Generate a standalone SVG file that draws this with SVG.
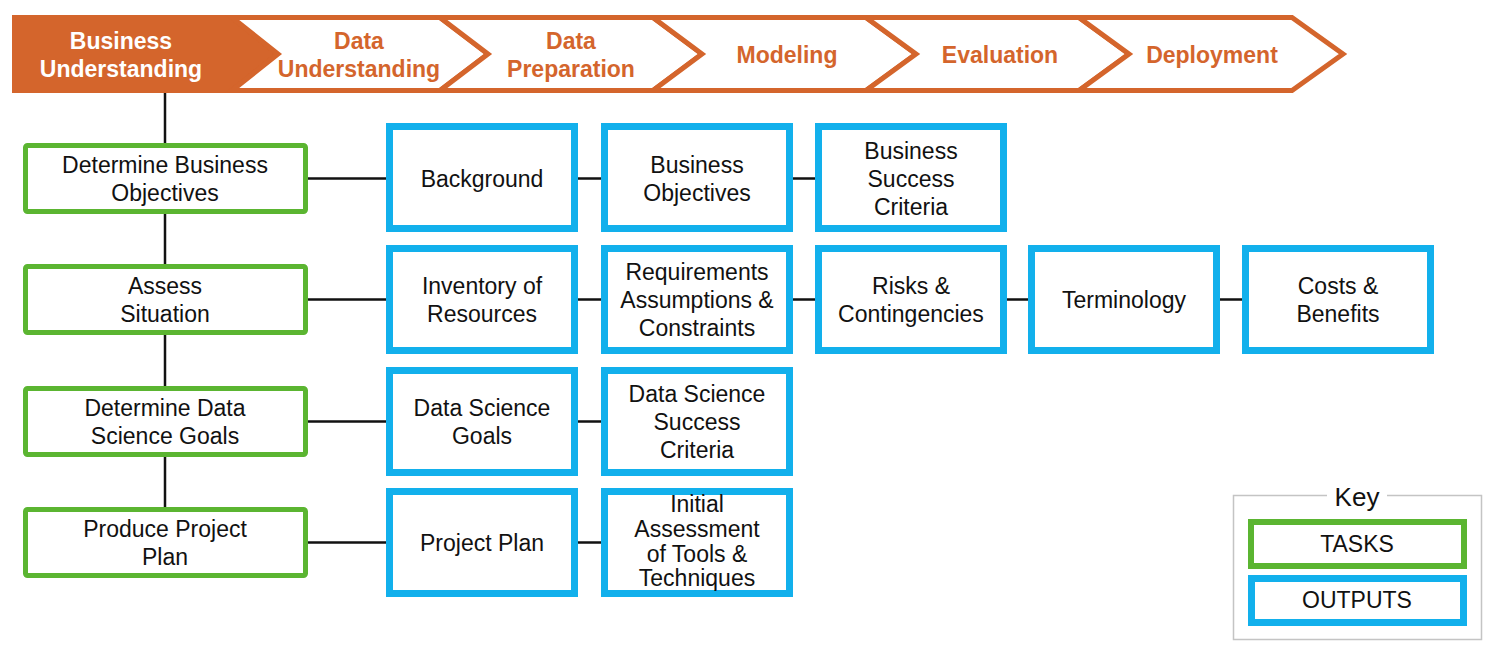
<svg xmlns="http://www.w3.org/2000/svg" width="1499" height="654" viewBox="0 0 1499 654">
<style>
.chev{fill:#fff;stroke:#D4652C;stroke-width:5;stroke-linejoin:miter}
.chev1{fill:#D4652C;stroke:#D4652C;stroke-width:5;stroke-linejoin:miter}
.ct{font-family:"Liberation Sans",Arial,sans-serif;font-weight:bold;font-size:23px;fill:#D4652C;text-anchor:middle}
.ct1{fill:#fff}
.task{fill:#fff;stroke:#5BB531;stroke-width:5}
.out{fill:#fff;stroke:#12B0EC;stroke-width:7}
.t{font-family:"Liberation Sans",Arial,sans-serif;font-size:23px;fill:#111;text-anchor:middle}
.conn line{stroke:#111;stroke-width:2.5}
</style>
<rect width="1499" height="654" fill="#fff"/>
<g id="phases">
<g id="phase-business-understanding">
<polygon class="chev1" points="14.5,17.5 232,17.5 278,54 232,90.5 14.5,90.5"/>
<text class="ct ct1" x="121" y="49">Business</text>
<text class="ct ct1" x="121" y="77">Understanding</text>
</g>
<g id="phase-data-understanding">
<polygon class="chev" points="232,17.5 440,17.5 488,54 440,90.5 232,90.5 278,54"/>
<text class="ct" x="359" y="49">Data</text>
<text class="ct" x="359" y="77">Understanding</text>
</g>
<g id="phase-data-preparation">
<polygon class="chev" points="440,17.5 653,17.5 702,54 653,90.5 440,90.5 488,54"/>
<text class="ct" x="571" y="49">Data</text>
<text class="ct" x="571" y="77">Preparation</text>
</g>
<g id="phase-modeling">
<polygon class="chev" points="653,17.5 866,17.5 916,54 866,90.5 653,90.5 702,54"/>
<text class="ct" x="787" y="63">Modeling</text>
</g>
<g id="phase-evaluation">
<polygon class="chev" points="866,17.5 1079,17.5 1129,54 1079,90.5 866,90.5 916,54"/>
<text class="ct" x="1000" y="63">Evaluation</text>
</g>
<g id="phase-deployment">
<polygon class="chev" points="1079,17.5 1292,17.5 1343,54 1292,90.5 1079,90.5 1129,54"/>
<text class="ct" x="1212" y="63">Deployment</text>
</g>
</g>
<g id="connectors" class="conn">
<line x1="165" y1="93" x2="165" y2="507"/>
<line x1="306" y1="178.5" x2="387" y2="178.5"/>
<line x1="577" y1="178.5" x2="602" y2="178.5"/>
<line x1="792" y1="178.5" x2="816" y2="178.5"/>
<line x1="306" y1="299.5" x2="387" y2="299.5"/>
<line x1="577" y1="299.5" x2="602" y2="299.5"/>
<line x1="792" y1="299.5" x2="816" y2="299.5"/>
<line x1="1006" y1="299.5" x2="1029" y2="299.5"/>
<line x1="1219" y1="299.5" x2="1243" y2="299.5"/>
<line x1="306" y1="421.5" x2="387" y2="421.5"/>
<line x1="577" y1="421.5" x2="602" y2="421.5"/>
<line x1="306" y1="542.5" x2="387" y2="542.5"/>
<line x1="577" y1="542.5" x2="602" y2="542.5"/>
</g>
<g id="task-determine-business-objectives">
<rect class="task" x="25.5" y="145.5" width="280" height="66" rx="2"/>
<text class="t" x="165" y="173">Determine Business</text>
<text class="t" x="165" y="201">Objectives</text>
</g>
<g id="task-assess-situation">
<rect class="task" x="25.5" y="266.5" width="280" height="66" rx="2"/>
<text class="t" x="165" y="294">Assess</text>
<text class="t" x="165" y="322">Situation</text>
</g>
<g id="task-determine-data-science-goals">
<rect class="task" x="25.5" y="388.5" width="280" height="66" rx="2"/>
<text class="t" x="165" y="416">Determine Data</text>
<text class="t" x="165" y="444">Science Goals</text>
</g>
<g id="task-produce-project-plan">
<rect class="task" x="25.5" y="509.5" width="280" height="66" rx="2"/>
<text class="t" x="165" y="537">Produce Project</text>
<text class="t" x="165" y="565">Plan</text>
</g>
<g id="out-background">
<rect class="out" x="389.5" y="126.5" width="185" height="102"/>
<text class="t" x="482" y="187">Background</text>
</g>
<g id="out-business-objectives">
<rect class="out" x="604.5" y="126.5" width="185" height="102"/>
<text class="t" x="697" y="173">Business</text>
<text class="t" x="697" y="201">Objectives</text>
</g>
<g id="out-business-success-criteria">
<rect class="out" x="818.5" y="126.5" width="185" height="102"/>
<text class="t" x="911" y="159">Business</text>
<text class="t" x="911" y="187">Success</text>
<text class="t" x="911" y="215">Criteria</text>
</g>
<g id="out-inventory-of-resources">
<rect class="out" x="389.5" y="248.5" width="185" height="102"/>
<text class="t" x="482" y="294">Inventory of</text>
<text class="t" x="482" y="322">Resources</text>
</g>
<g id="out-requirements">
<rect class="out" x="604.5" y="248.5" width="185" height="102"/>
<text class="t" x="697" y="280">Requirements</text>
<text class="t" x="697" y="308">Assumptions &amp;</text>
<text class="t" x="697" y="336">Constraints</text>
</g>
<g id="out-risks">
<rect class="out" x="818.5" y="248.5" width="185" height="102"/>
<text class="t" x="911" y="294">Risks &amp;</text>
<text class="t" x="911" y="322">Contingencies</text>
</g>
<g id="out-terminology">
<rect class="out" x="1031.5" y="248.5" width="185" height="102"/>
<text class="t" x="1124" y="308">Terminology</text>
</g>
<g id="out-costs-benefits">
<rect class="out" x="1245.5" y="248.5" width="185" height="102"/>
<text class="t" x="1338" y="294">Costs &amp;</text>
<text class="t" x="1338" y="322">Benefits</text>
</g>
<g id="out-data-science-goals">
<rect class="out" x="389.5" y="370.5" width="185" height="102"/>
<text class="t" x="482" y="416">Data Science</text>
<text class="t" x="482" y="444">Goals</text>
</g>
<g id="out-data-science-success-criteria">
<rect class="out" x="604.5" y="370.5" width="185" height="102"/>
<text class="t" x="697" y="402">Data Science</text>
<text class="t" x="697" y="430">Success</text>
<text class="t" x="697" y="458">Criteria</text>
</g>
<g id="out-project-plan">
<rect class="out" x="389.5" y="491.5" width="185" height="102"/>
<text class="t" x="482" y="551">Project Plan</text>
</g>
<g id="out-initial-assessment">
<rect class="out" x="604.5" y="491.5" width="185" height="102"/>
<text class="t" x="697" y="512">Initial</text>
<text class="t" x="697" y="537">Assessment</text>
<text class="t" x="697" y="562">of Tools &amp;</text>
<text class="t" x="697" y="586">Techniques</text>
</g>
<g id="key">
<path d="M1327,495.5 H1233.5 V639.5 H1481.5 V495.5 H1387" fill="none" stroke="#C4C4C4" stroke-width="1.5"/>
<text class="t" x="1357" y="506" style="font-size:26px">Key</text>
<rect x="1251" y="522" width="213" height="44" fill="#fff" stroke="#5BB531" stroke-width="6"/>
<text class="t" x="1357" y="552">TASKS</text>
<rect x="1251.5" y="578.5" width="212" height="44" fill="#fff" stroke="#12B0EC" stroke-width="7"/>
<text class="t" x="1357" y="608">OUTPUTS</text>
</g>
</svg>
